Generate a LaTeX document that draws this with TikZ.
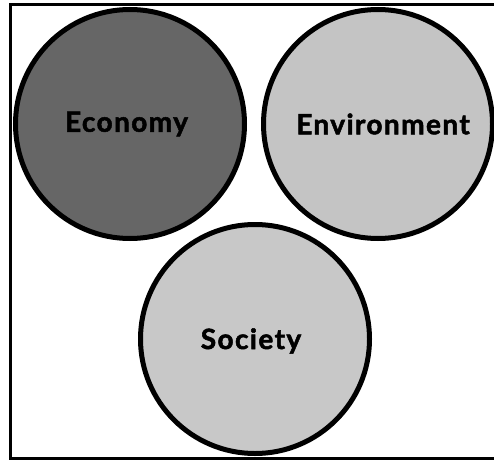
\documentclass[tikz,border=0pt]{standalone}
\usepackage{fontspec}
\setmainfont{Lato}[BoldFeatures={FakeBold=1.8}]
\newfontfamily\pillarfont{Lato}[LetterSpace=5,BoldFeatures={FakeBold=1.8}]
\definecolor{econgray}{HTML}{666666}
\definecolor{envgray}{HTML}{C4C4C4}
\definecolor{socgray}{HTML}{C8C8C8}
\begin{document}
\begin{tikzpicture}[x=1pt,y=-1pt]

    \tikzset{
      pillar/.style={
        circle,
        draw=black,
        line width=5pt,
        minimum size=229pt,
        inner sep=0pt,
      },
      pillarlabel/.style={
        font=\pillarfont\fontsize{28}{32}\selectfont\bfseries,
        inner sep=0pt,
      },
    }
    \useasboundingbox (0,0) rectangle (494,460);

	\draw[color={black},line width = 3] (10.5,4.5) rectangle (497,458.5);
	\node[pillar,fill=econgray] (economy) at (130,124) {};
	\node[pillar,fill=envgray] (environment) at (378,124) {};
	\node[pillar,fill=socgray] (society) at (255,339) {};
	\node[pillarlabel] (economytext) at (126.5,124) {Economy};
	\node[pillarlabel] (environmenttext) at (383,124) {Environment};
	\node[pillarlabel] (societytext) at (251,341) {Society};

\end{tikzpicture}
\end{document}
